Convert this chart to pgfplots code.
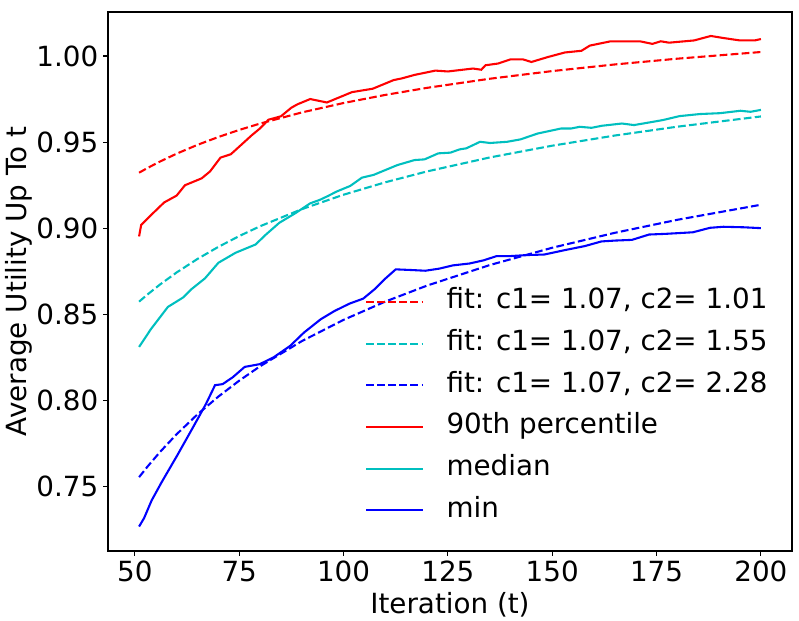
\documentclass[border=0pt]{standalone}
\usepackage{fontspec}
\setmainfont{DejaVu Sans}
\usepackage{pgfplots}
\pgfplotsset{compat=1.18}
\definecolor{mplred}{HTML}{FF0000}
\definecolor{mplcyan}{HTML}{00BFBF}
\definecolor{mplblue}{HTML}{0000FF}
\begin{document}
\begin{tikzpicture}
\begin{axis}[
  name=ax,
  scale only axis,
  width=492.5pt, height=388.1pt,
  xmin=43.55, xmax=207.45, ymin=0.7128, ymax=1.0255,
  axis line style={line width=0.8pt},
  tick style={line width=0.8pt, black},
  tick align=outside,
  major tick length=3.5pt,
  xtick={50,75,100,125,150,175,200},
  ytick={0.75,0.80,0.85,0.90,0.95,1.00},
  xtick pos=bottom, ytick pos=left,
  /pgf/number format/assume math mode=true,
  yticklabel style={/pgf/number format/fixed,/pgf/number format/fixed zerofill,/pgf/number format/precision=2},
  xticklabel style={/pgf/number format/fixed},
  ticklabel style={font=\fontsize{20}{24}\selectfont},
  label style={font=\fontsize{20}{24}\selectfont},
  xlabel={Iteration (t)},
  ylabel={Average Utility Up To t},
  xlabel style={yshift=-0.8pt},
  ylabel style={yshift=-4pt},
  legend style={draw=none, fill=none, at={(0.3757,0.4883)}, anchor=north west,
    inner sep=0pt, row sep=10pt, column sep=16pt,
    font=\fontsize{20}{24}\selectfont,
    nodes={inner sep=0pt, text height=15pt, text depth=5pt}},
  legend cell align=left,
  legend image code/.code={\draw[#1] (0pt,0pt) -- (41pt,0pt);},
  every axis plot/.append style={line width=1.5pt},
  mpldash/.style={dash pattern=on 5.55pt off 2.4pt},
]
\addplot[mplred, mpldash] coordinates {(51,0.93227)(53,0.93497)(56,0.93873)(60,0.94331)(65,0.94843)(70,0.95298)(75,0.95708)(80,0.96078)(90,0.96724)(100,0.9727)(110,0.97740)(120,0.98150)(135,0.98677)(150,0.99123)(165,0.99507)(180,0.99842)(200,1.00228)};
\addlegendentry{fit: c1= 1.07, c2= 1.01}
\addplot[mplcyan, mpldash] coordinates {(51,0.85746)(53,0.86159)(56,0.86737)(60,0.87440)(65,0.88225)(70,0.88924)(75,0.89552)(80,0.90121)(90,0.91112)(100,0.9195)(110,0.92671)(120,0.93301)(135,0.94110)(150,0.94794)(165,0.95383)(180,0.95897)(200,0.96490)};
\addlegendentry{fit: c1= 1.07, c2= 1.55}
\addplot[mplblue, mpldash] coordinates {(51,0.75564)(53,0.76172)(56,0.77022)(60,0.78055)(65,0.79210)(70,0.80239)(75,0.81163)(80,0.81999)(90,0.83457)(100,0.8469)(110,0.85751)(120,0.86677)(135,0.87867)(150,0.88874)(165,0.89740)(180,0.90496)(200,0.91368)};
\addlegendentry{fit: c1= 1.07, c2= 2.28}
\addplot[mplred] coordinates {(51,0.8953)(51.5,0.902)(54,0.908)(57,0.915)(60,0.919)(62,0.925)(66,0.929)(68,0.933)(70.5,0.941)(73,0.943)(78,0.954)(80,0.958)(82,0.963)(85,0.965)(87.5,0.970)(89,0.972)(92,0.975)(96,0.973)(99,0.976)(102,0.979)(107,0.981)(112,0.986)(114,0.987)(117,0.989)(119,0.990)(122,0.9915)(125,0.991)(131,0.9927)(133,0.992)(134,0.9946)(137,0.9956)(140,0.998)(143,0.998)(145,0.9965)(149,0.9994)(153,1.002)(157,1.003)(159,1.006)(164,1.0085)(171,1.0085)(174,1.007)(176,1.0085)(178,1.0077)(184,1.009)(188,1.0116)(191,1.0104)(195,1.009)(198.5,1.009)(200,1.0098)};
\addlegendentry{90th percentile}
\addplot[mplcyan] coordinates {(51,0.8312)(53.8,0.8414)(57.9,0.8544)(61.5,0.8598)(63.5,0.8646)(66.8,0.8710)(70,0.8800)(74.1,0.8858)(78.9,0.8906)(81.4,0.8964)(84.6,0.9032)(88.6,0.9090)(92,0.9145)(94.3,0.9165)(96.3,0.9188)(98.3,0.9213)(101.6,0.9246)(104.4,0.9294)(107.2,0.9310)(112.9,0.9367)(117,0.9396)(119.4,0.9400)(122.7,0.9435)(125.6,0.9439)(127.8,0.9458)(129.4,0.9464)(132.7,0.9502)(135.1,0.9495)(139.2,0.9502)(142.4,0.9516)(146.5,0.9550)(152.1,0.9579)(154.5,0.9579)(156.6,0.9589)(159.4,0.9583)(161.9,0.9595)(166.7,0.9608)(169.6,0.9599)(173.2,0.9614)(176.5,0.9628)(180.5,0.9651)(185.4,0.9663)(190.2,0.9668)(195.1,0.9682)(197.5,0.9676)(200,0.9687)};
\addlegendentry{median}
\addplot[mplblue] coordinates {(51,0.7270)(52.2,0.7319)(54,0.7421)(56.4,0.7527)(60.1,0.7681)(63.7,0.7836)(67,0.7980)(69.2,0.8090)(71,0.8096)(73.4,0.8135)(76.3,0.8196)(79.9,0.8212)(83.2,0.8251)(87.2,0.8318)(90.5,0.8395)(94.5,0.8472)(97.8,0.8520)(101.4,0.8563)(104.7,0.8592)(107.4,0.8646)(109.8,0.8704)(112.5,0.8762)(116.3,0.8758)(119.6,0.8754)(122.9,0.8766)(126.2,0.8785)(130.2,0.8796)(133.5,0.8814)(136.7,0.8839)(140,0.8839)(144,0.8845)(148.1,0.8848)(152.9,0.8873)(157.8,0.8897)(161.8,0.8924)(165.1,0.8929)(169.1,0.8933)(173.2,0.8964)(177.2,0.8968)(183.7,0.8977)(187.8,0.9003)(191,0.9009)(195.9,0.9006)(200,0.9001)};
\addlegendentry{min}
\end{axis}
\pgfresetboundingbox
\path ([shift={(-77.76pt,-49.68pt)}]ax.south west) rectangle ([shift={(5.04pt,8.64pt)}]ax.north east);
\end{tikzpicture}
\end{document}
